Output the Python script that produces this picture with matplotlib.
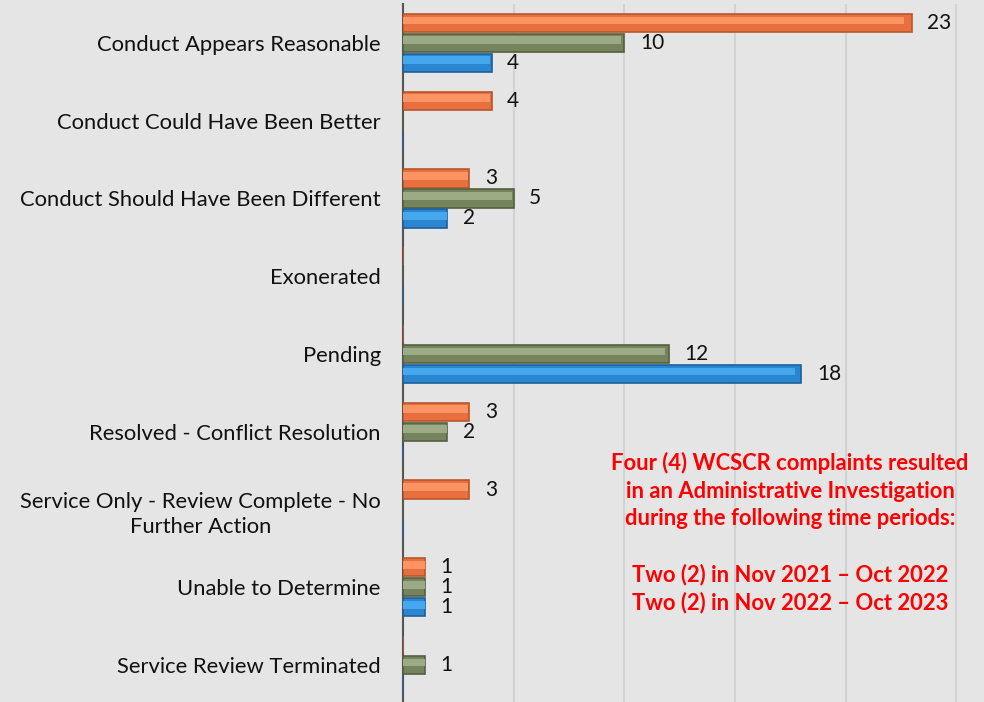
import numpy as np
import matplotlib
matplotlib.use("Agg")
import matplotlib.pyplot as plt

plt.rcParams['font.family'] = ['Lato', 'DejaVu Sans']

# categories, top to bottom
categories = [
    "Conduct Appears Reasonable",
    "Conduct Could Have Been Better",
    "Conduct Should Have Been Different",
    "Exonerated",
    "Pending",
    "Resolved - Conflict Resolution",
    "Service Only - Review Complete - No\nFurther Action",
    "Unable to Determine",
    "Service Review Terminated",
]
# three series (orange, green, blue); 0 = no bar
orange_vals = [23, 4, 3, 0, 0, 3, 3, 1, 0]
green_vals = [10, 0, 5, 0, 12, 2, 0, 1, 1]
blue_vals = [4, 0, 2, 0, 18, 0, 0, 1, 0]

note = ("Four (4) WCSCR complaints resulted\n"
        "in an Administrative Investigation\n"
        "during the following time periods:\n\n"
        "Two (2) in Nov 2021 \u2013 Oct 2022\n"
        "Two (2) in Nov 2022 \u2013 Oct 2023")

bg = "#e5e5e5"
fig = plt.figure(figsize=(9.84, 7.02), dpi=100, facecolor=bg)
ax = fig.add_axes([403 / 984, -2 / 702, 1 - 403 / 984, 700 / 702])
ax.set_facecolor(bg)

y = np.arange(len(categories))
h = 0.235
step = 0.257
series = [
    (orange_vals, -step, "#e8703f", "#fb9362", "#b8552c"),
    (green_vals, 0.0, "#76845e", "#9cab85", "#56603f"),
    (blue_vals, step, "#2b86d0", "#45a8ee", "#1c5f9c"),
]
for vals, off, mid, light, dark in series:
    vals = np.array(vals)
    ax.barh(y + off, vals, height=h, color=mid, edgecolor=dark, linewidth=1.2, zorder=3)
    # lighter upper band for the bevel look
    ax.barh(y + off - h * 0.14, vals * 0.985, height=h * 0.42, color=light,
            linewidth=0, zorder=4)
    for yi, v in zip(y + off, vals):
        if v > 0:
            ax.text(v + 0.7, yi, str(v), va='center', ha='left', fontsize=15,
                    color='#111111', zorder=5)

ax.set_ylim(len(categories) - 0.5, -0.5)
ax.set_xlim(0, 581 / 22.13)
ax.set_xticks([5, 10, 15, 20, 25])
ax.set_xticklabels([])
ax.tick_params(axis='x', length=0)
ax.grid(axis='x', color='#d2d2d2', linewidth=1.5, zorder=0)
ax.set_axisbelow(True)

ax.set_yticks(y)
ax.set_yticklabels(categories, fontsize=15.8, color='#111111',
                   multialignment='center', linespacing=1.35)
ax.tick_params(axis='y', length=0, pad=16)

for s in ['top', 'right', 'bottom']:
    ax.spines[s].set_visible(False)
ax.spines['left'].set_color('#555555')
ax.spines['left'].set_linewidth(1.5)

fig.text(790 / 984, 1 - 533 / 702, note, ha='center', va='center', color='#ff0000',
         fontsize=15.8, fontweight='bold', linespacing=1.38)

fig.savefig("out.png", dpi=100, facecolor=bg)
